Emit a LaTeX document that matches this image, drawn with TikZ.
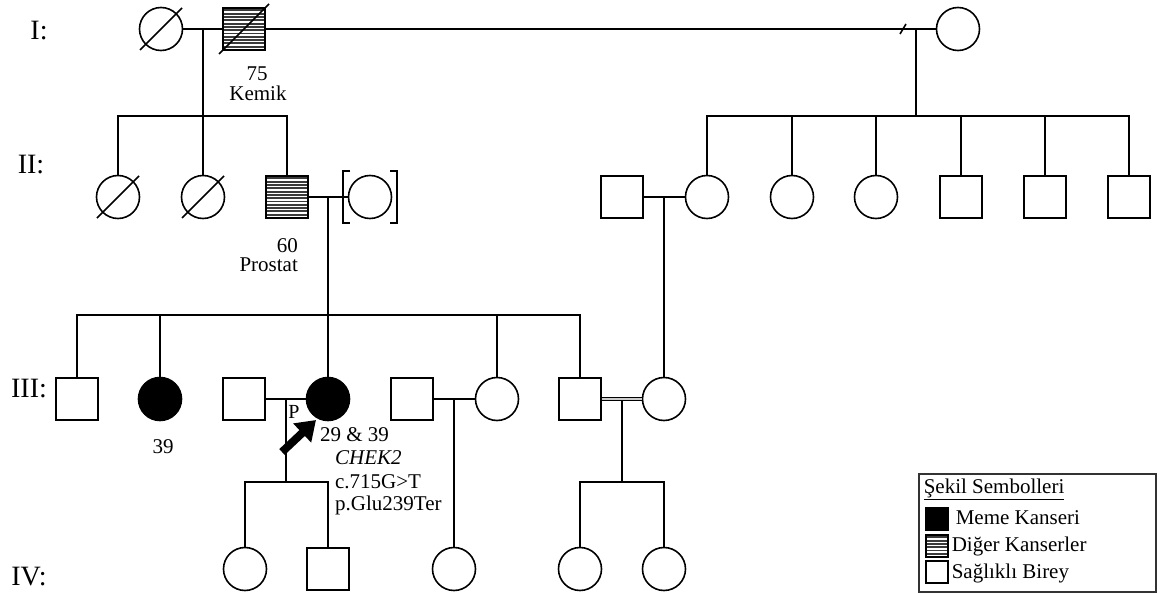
\documentclass[tikz,border=0pt]{standalone}
\usepackage{fontspec}
\setmainfont{Liberation Serif}
\usetikzlibrary{arrows.meta,calc}
\definecolor{hatchgray}{HTML}{3A3A3A}
\newcommand{\txt}{\fontsize{21}{24}\selectfont}
\newcommand{\gen}{\fontsize{28}{32}\selectfont}
\newcommand{\deceased}[2]{\draw (#1.center) ++(-#2,#2) -- ++(2*#2,-2*#2);}
\tikzset{
  male/.style={draw,rectangle,minimum size=42pt,inner sep=0pt},
  female/.style={draw,circle,minimum size=43pt,inner sep=0pt},
  affected/.style={fill=black},
  othercancer/.style={fill=white,path picture={
      \foreach \k in {-21,-17.7,...,21}
        \draw[hatchgray,line width=1.9pt] ([yshift=\k pt]path picture bounding box.west) -- ([yshift=\k pt]path picture bounding box.east);}},
  legsym/.style={draw,rectangle,minimum size=22pt,inner sep=0pt,line width=1.8pt},
}

\begin{document}
\begin{tikzpicture}[x=1pt,y=-1pt,line width=1.6pt]
    \useasboundingbox (0,0) rectangle (1160,594);
    \node[font=\gen] at (39,31) {I:};
    \node[font=\gen] at (31,165) {II:};
    \node[font=\gen] at (29,389) {III:};
    \node[font=\gen] at (29,577) {IV:};

    \node[female] (i1) at (161,29) {};
    \node[male,othercancer] (i2) at (244,29) {};
    \node[female] (i3) at (958,29) {};
    \deceased{i1}{21}
    \deceased{i2}{25}
    \node[font=\txt] at (257,74) {75};
    \node[font=\txt] at (258,93) {Kemik};

    \node[female] (ii1) at (118,197) {};
    \node[female] (ii2) at (203,197) {};
    \node[male,othercancer] (ii3) at (287,197) {};
    \node[female] (iisp) at (370,197) {};
    \deceased{ii1}{21}
    \deceased{ii2}{21}
    \draw (iisp.center) ++(-20,-26) -- ++(-7,0) -- ++(0,52) -- ++(7,0);
    \draw (iisp.center) ++(20,-26) -- ++(7,0) -- ++(0,52) -- ++(-7,0);
    \node[font=\txt,anchor=east] at (302,246) {60};
    \node[font=\txt,anchor=east] at (302,265) {Prostat};
    \node[male] (ii4) at (622,197) {};
    \node[female] (ii5) at (707,197) {};
    \node[female] (ii6) at (792,197) {};
    \node[female] (ii7) at (876,197) {};
    \node[male] (ii8) at (961,197) {};
    \node[male] (ii9) at (1045,197) {};
    \node[male] (ii10) at (1129,197) {};

    \node[male] (iii1) at (77,399) {};
    \node[female,affected] (iii2) at (160,399) {};
    \node[male] (iii3) at (244,399) {};
    \node[female,affected] (iii4) at (328,399) {};
    \node[male] (iii5) at (412,399) {};
    \node[female] (iii6) at (497,399) {};
    \node[male] (iii7) at (580,399) {};
    \node[female] (iii8) at (664,399) {};
    \node[font=\txt] at (163,447) {39};
    \node[font=\fontsize{20}{22}\selectfont] at (294,412) {P};
    \node[font=\txt,anchor=west] at (316,435) {29 \& 39};
    \node[font=\txt,anchor=west] at (331,458) {\itshape CHEK2};
    \node[font=\txt,anchor=west] at (331,482) {c.715G>T};
    \node[font=\txt,anchor=west] at (331,505) {p.Glu239Ter};

    \node[female] (iv1) at (245,569) {};
    \node[male] (iv2) at (328,569) {};
    \node[female] (iv3) at (454,569) {};
    \node[female] (iv4) at (580,569) {};
    \node[female] (iv5) at (664,569) {};

    \coordinate (c1) at (203,29);
    \coordinate (s1) at (203,116);
    \coordinate (c2) at (916,29);
    \coordinate (s2) at (916,116);
    \draw (i1.east) -- (i2.west);
    \draw (i2.east) -- (i3.west);
    \draw (900,34) -- (906,24);
    \draw (c1) -- (s1);
    \draw (ii1.north) |- (s1) -| (ii3.north);
    \draw (s1) -- (ii2.north);
    \draw (c2) -- (s2);
    \draw (ii5.north) |- (s2) -| (ii10.north);
    \foreach \n in {6,...,9}
        \draw (ii\n.north) -- (ii\n.north |- s2);

    \coordinate (c3) at (328,197);
    \coordinate (s3) at (328,315);
    \coordinate (c4) at (664,197);
    \draw (ii3.east) -- (iisp.west);
    \draw (c3) -- (iii4.north);
    \draw (iii1.north) |- (s3) -| (iii7.north);
    \draw (iii2.north) -- (iii2.north |- s3);
    \draw (iii6.north) -- (iii6.north |- s3);
    \draw (ii4.east) -- (ii5.west);
    \draw (c4) -- (iii8.north);

    \coordinate (c5) at (286,399);
    \coordinate (s5) at (286,482);
    \coordinate (c6) at (454,399);
    \coordinate (c7) at (622,401);
    \coordinate (s7) at (622,482);
    \draw (iii3.east) -- (iii4.west);
    \draw (c5) -- (s5);
    \draw (iv1.north) |- (s5) -| (iv2.north);
    \draw (iii5.east) -- (iii6.west);
    \draw (c6) -- (iv3.north);
    \draw[line width=1.2pt,double=gray!40,double distance=1.8pt] (iii7.east) -- (iii8.west);
    \draw (c7) -- (s7);
    \draw (iv4.north) |- (s7) -| (iv5.north);

    \coordinate (arrtail) at (282,452);
    \coordinate (arrtip) at (316,420);
    \draw[line width=8pt,-{Triangle[length=19pt,width=25pt]}] (arrtail) -- (arrtip);

    \draw[line width=1.2pt,black!80] (919,474) rectangle (1156,592);
    \node[font=\txt,anchor=west,inner sep=0pt] at (923,489) {\underline{Şekil Sembolleri}};
    \node[legsym,fill=black] (legaff) at (937,519) {};
    \node[legsym,othercancer] (legoth) at (937,546) {};
    \node[legsym] (legnorm) at (937,572) {};
    \node[font=\txt,anchor=west,inner sep=0pt] at (955,518) {Meme Kanseri};
    \node[font=\txt,anchor=west,inner sep=0pt] at (951,546) {Diğer Kanserler};
    \node[font=\txt,anchor=west,inner sep=0pt] at (951,573) {Sağlıklı Birey};
\end{tikzpicture}
\end{document}
